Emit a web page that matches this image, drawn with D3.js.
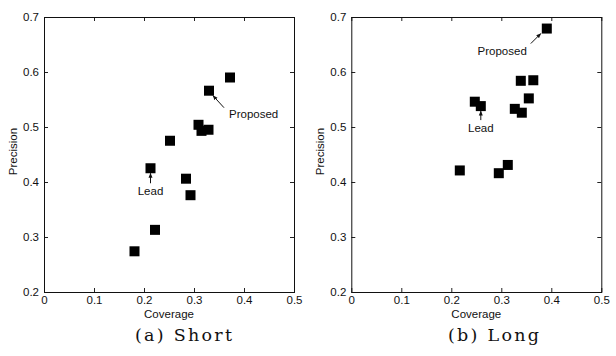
<!DOCTYPE html>
<html>
<head>
<meta charset="utf-8">
<script src="https://cdn.jsdelivr.net/npm/d3@7"></script>
<style>
  body { margin: 0; background: #fff; }
  svg { display: block; }
</style>
</head>
<body>
<div id="chart"></div>
<script>
// values
const xTicks = [0, 0.1, 0.2, 0.3, 0.4, 0.5];
const yTicks = [0.2, 0.3, 0.4, 0.5, 0.6, 0.7];

const shortCoverage  = [0.372, 0.330, 0.309, 0.315, 0.329, 0.252, 0.213, 0.284, 0.293, 0.222, 0.181];
const shortPrecision = [0.590, 0.566, 0.504, 0.493, 0.495, 0.475, 0.425, 0.406, 0.376, 0.313, 0.274];

const longCoverage  = [0.391, 0.339, 0.364, 0.355, 0.327, 0.341, 0.247, 0.259, 0.217, 0.313, 0.295];
const longPrecision = [0.679, 0.584, 0.585, 0.552, 0.533, 0.526, 0.546, 0.538, 0.421, 0.431, 0.416];

const annotationNames = ["Proposed", "Lead"];
const shortAnnotated = [1, 6];   // index of the point each note points at
const longAnnotated  = [0, 7];

const captions = ["(a) Short", "(b) Long"];

const width = 616, height = 356;
const font = "'Liberation Sans', Arial, sans-serif";

const svg = d3.select("#chart").append("svg")
  .attr("width", width)
  .attr("height", height);

svg.append("defs").append("marker")
  .attr("id", "arrow")
  .attr("viewBox", "0 0 10 10")
  .attr("refX", 9).attr("refY", 5)
  .attr("markerWidth", 5).attr("markerHeight", 5)
  .attr("orient", "auto")
  .append("path")
  .attr("d", "M0,1 L10,5 L0,9 z")
  .attr("fill", "#111");

const panels = [
  {left: 44, cx: 183.5, xs: shortCoverage, ys: shortPrecision, notes: shortAnnotated,
   place: [ {from: [15, 17], to: [4, 5], text: [20, 23], anchor: "start"},
            {from: [0, 15], to: [0, 5], text: [0, 23], anchor: "middle"} ]},
  {left: 351.3, cx: 493.5, xs: longCoverage, ys: longPrecision, notes: longAnnotated,
   place: [ {from: [-16, 15], to: [-6, 5], text: [-20, 22], anchor: "end"},
            {from: [0, 14], to: [0, 5], text: [0, 22], anchor: "middle"} ]}
];

const plotTop = 17, plotBottom = 292, plotW = 250;

panels.forEach((p, pi) => {
  const x = d3.scaleLinear().domain([0, 0.5]).range([p.left, p.left + plotW]);
  const y = d3.scaleLinear().domain([0.2, 0.7]).range([plotBottom, plotTop]);
  const fmt = d => d === 0 ? "0" : d3.format(".1f")(d);

  const g = svg.append("g");

  // inward ticks on all four sides
  const axes = [
    {axis: d3.axisBottom(x).tickValues(xTicks).tickFormat(fmt).tickSizeInner(-4).tickSizeOuter(0).tickPadding(4),
     t: `translate(0,${plotBottom})`, labels: true},
    {axis: d3.axisTop(x).tickValues(xTicks).tickSizeInner(-4).tickSizeOuter(0),
     t: `translate(0,${plotTop})`, labels: false},
    {axis: d3.axisLeft(y).tickValues(yTicks).tickFormat(fmt).tickSizeInner(-4).tickSizeOuter(0).tickPadding(5),
     t: `translate(${p.left},0)`, labels: true},
    {axis: d3.axisRight(y).tickValues(yTicks).tickSizeInner(-4).tickSizeOuter(0),
     t: `translate(${p.left + plotW},0)`, labels: false}
  ];
  axes.forEach(a => {
    const ag = g.append("g").attr("transform", a.t).call(a.axis);
    ag.select(".domain").remove();
    ag.selectAll(".tick line").attr("stroke", "#222");
    ag.selectAll("text")
      .style("font-family", font)
      .style("font-size", "11.5px")
      .attr("fill", "#111");
    if (!a.labels) ag.selectAll("text").remove();
  });

  // frame
  g.append("rect")
    .attr("x", p.left + 0.5).attr("y", plotTop + 0.5)
    .attr("width", plotW).attr("height", plotBottom - plotTop)
    .attr("fill", "none")
    .attr("stroke", "#111")
    .attr("stroke-width", 1);

  // axis titles
  g.append("text")
    .attr("x", p.left + plotW / 2).attr("y", plotBottom + 26)
    .attr("text-anchor", "middle")
    .style("font-family", font).style("font-size", "11.5px")
    .attr("fill", "#111")
    .text("Coverage");

  g.append("text")
    .attr("transform", `translate(${p.left - 27},${(plotTop + plotBottom) / 2 - 3}) rotate(-90)`)
    .attr("text-anchor", "middle")
    .style("font-family", font).style("font-size", "11.5px")
    .attr("fill", "#111")
    .text("Precision");

  // points
  const pts = p.xs.map((v, i) => ({x: v, y: p.ys[i]}));
  const s = 10;
  g.selectAll("rect.pt").data(pts).enter().append("rect")
    .attr("class", "pt")
    .attr("x", d => x(d.x) - s / 2)
    .attr("y", d => y(d.y) - s / 2)
    .attr("width", s).attr("height", s)
    .attr("fill", "#000");

  // annotations
  p.notes.forEach((idx, k) => {
    const px = x(p.xs[idx]), py = y(p.ys[idx]);
    const pl = p.place[k];
    g.append("line")
      .attr("x1", px + pl.from[0]).attr("y1", py + pl.from[1])
      .attr("x2", px + pl.to[0]).attr("y2", py + pl.to[1])
      .attr("stroke", "#111").attr("stroke-width", 1)
      .attr("marker-end", "url(#arrow)");
    g.append("text")
      .attr("x", px + pl.text[0]).attr("y", py + pl.text[1])
      .attr("dy", "0.35em")
      .attr("text-anchor", pl.anchor)
      .style("font-family", font).style("font-size", "11.5px")
      .attr("fill", "#111")
      .text(annotationNames[k]);
  });

  // caption
  svg.append("text")
    .attr("x", p.cx).attr("y", 341)
    .attr("text-anchor", "middle")
    .attr("textLength", pi === 0 ? 97 : 91)
    .attr("lengthAdjust", "spacing")
    .style("font-family", "'DejaVu Serif', serif")
    .style("font-size", "17.5px")
    .attr("fill", "#111")
    .text(captions[pi]);
});
</script>
</body>
</html>
